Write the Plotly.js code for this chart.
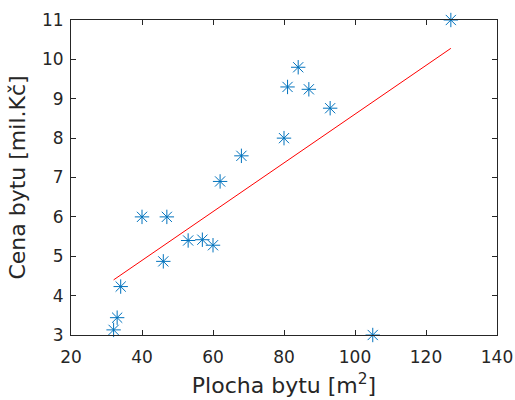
<!DOCTYPE html>
<html>
<head>
<meta charset="utf-8">
<script src="https://cdn.plot.ly/plotly-3.0.1.min.js"></script>
<style>html,body{margin:0;padding:0;background:#fff;}#chart{width:515px;height:400px;}</style>
</head>
<body>
<div id="chart"></div>
<script>
const plocha = [127, 84, 81, 87, 93, 80, 68, 62, 40, 47, 53, 57, 60, 46, 34, 33, 32, 105];
const cena   = [11.0, 9.8, 9.3, 9.24, 8.76, 8.0, 7.55, 6.9, 6.0, 6.0, 5.4, 5.42, 5.28, 4.87, 4.23, 3.44, 3.13, 3.0];
const fitX = [32, 127];
const fitY = [4.4, 10.28];
const xTicks = [20, 40, 60, 80, 100, 120, 140];
const yTicks = [3, 4, 5, 6, 7, 8, 9, 10, 11];

const axisCol = '#262626';
const font = 'DejaVu Sans, sans-serif';

const data = [
  {x: plocha, y: cena, type: 'scatter', mode: 'markers',
   marker: {symbol: 'asterisk-open', size: 12, color: '#0072BD', line: {color: '#0072BD', width: 1}},
   cliponaxis: false, hoverinfo: 'none'},
  {x: fitX, y: fitY, type: 'scatter', mode: 'lines',
   line: {color: '#FF0000', width: 1}, hoverinfo: 'none'}
];
const layout = {
  width: 515, height: 400,
  margin: {l: 71, r: 18, t: 20, b: 65},
  showlegend: false,
  paper_bgcolor: '#fff', plot_bgcolor: '#fff',
  font: {family: font, color: axisCol},
  xaxis: {range: [20, 140], tickvals: xTicks, ticktext: xTicks.map(String),
    ticks: 'inside', ticklen: 5, tickcolor: axisCol, showline: true, linecolor: axisCol, linewidth: 1,
    mirror: 'ticks', showgrid: false, zeroline: false, tickfont: {size: 17, family: font, color: axisCol},
    ticklabelstandoff: 7,
    title: {text: 'Plocha bytu [m<sup>2</sup>]', font: {size: 22, family: font, color: axisCol}, standoff: 11}},
  yaxis: {range: [3, 11], tickvals: yTicks, ticktext: yTicks.map(String),
    ticks: 'inside', ticklen: 5, tickcolor: axisCol, showline: true, linecolor: axisCol, linewidth: 1,
    mirror: 'ticks', showgrid: false, zeroline: false, tickfont: {size: 17, family: font, color: axisCol},
    ticklabelstandoff: 3,
    title: {text: 'Cena bytu [mil.Kč]', font: {size: 22, family: font, color: axisCol}, standoff: 10}}
};
Plotly.newPlot('chart', data, layout, {staticPlot: true});
</script>
</body>
</html>
